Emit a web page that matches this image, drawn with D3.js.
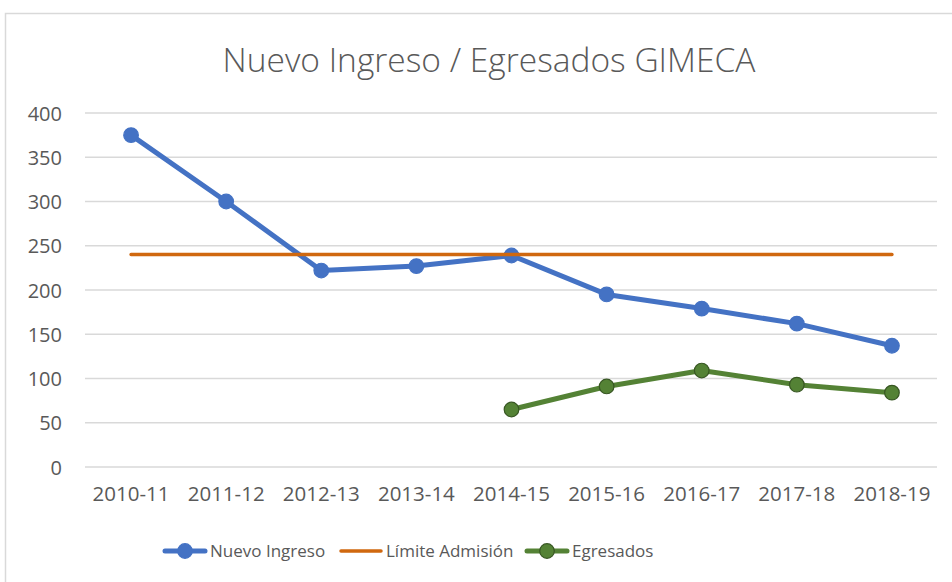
<html>
<head>
    <meta charset="utf-8">
    <title>Nuevo Ingreso / Egresados GIMECA</title>
    <style>
        body { margin: 0; background: #fff; }
        svg text { font-family: "Open Sans", sans-serif; fill: #595959; }
        .grid line { stroke: #d9d9d9; stroke-width: 1.5px; }
    </style>
</head>
<body>
    <svg width="952" height="582"></svg>
    <script src="https://d3js.org/d3.v7.min.js"></script>
    <script>
        // data
        var categories = ["2010-11", "2011-12", "2012-13", "2013-14", "2014-15", "2015-16", "2016-17", "2017-18", "2018-19"];
        var nuevoIngreso = [375, 300, 222, 227, 239, 195, 179, 162, 137];
        var limiteAdmision = [240, 240, 240, 240, 240, 240, 240, 240, 240];
        var egresados = [null, null, null, null, 65, 91, 109, 93, 84];
        var yTicks = [0, 50, 100, 150, 200, 250, 300, 350, 400];

        var series = [
            { name: "Nuevo Ingreso", values: nuevoIngreso, color: "#4472c4", width: 5, marker: true, markerStroke: "#4472c4" },
            { name: "Límite Admisión", values: limiteAdmision, color: "#d0680f", width: 3.5, marker: false },
            { name: "Egresados", values: egresados, color: "#548235", width: 5, marker: true, markerStroke: "#385723" }
        ];

        var svg = d3.select("svg");

        // chart frame
        svg.append("rect")
            .attr("x", 5.5).attr("y", 13.5)
            .attr("width", 960).attr("height", 600)
            .attr("fill", "none")
            .attr("stroke", "#d9d9d9")
            .attr("stroke-width", 1.5);

        svg.append("text")
            .attr("x", 489).attr("y", 72)
            .attr("text-anchor", "middle")
            .style("font-size", "33.5px")
            .style("font-weight", 300)
            .text("Nuevo Ingreso / Egresados GIMECA");

        var x = d3.scaleBand().domain(categories).range([83.5, 939.5]);
        var y = d3.scaleLinear().domain([0, 400]).range([467, 113]);

        // gridlines
        svg.append("g").attr("class", "grid")
            .selectAll("line")
            .data(yTicks)
            .enter().append("line")
            .attr("x1", 85).attr("x2", 937)
            .attr("y1", function (d) { return y(d); })
            .attr("y2", function (d) { return y(d); });

        // y axis labels
        var yAxis = d3.axisLeft(y).tickValues(yTicks).tickSize(0).tickPadding(0);
        svg.append("g")
            .attr("transform", "translate(62,0)")
            .call(yAxis)
            .call(function (g) { g.select(".domain").remove(); })
            .selectAll("text")
            .attr("dy", "0.35em")
            .style("font-size", "20px")
            .style("fill", "#595959");

        // x axis labels
        var xAxis = d3.axisBottom(x).tickSize(0).tickPadding(0);
        svg.append("g")
            .attr("transform", "translate(0,486)")
            .call(xAxis)
            .call(function (g) { g.select(".domain").remove(); })
            .selectAll("text")
            .attr("dy", "0.71em")
            .style("font-size", "20.5px")
            .style("fill", "#595959");

        var cx = function (i) { return x(categories[i]) + x.bandwidth() / 2; };

        var line = d3.line()
            .defined(function (d) { return d != null; })
            .x(function (d, i) { return cx(i); })
            .y(function (d) { return y(d); });

        series.forEach(function (s) {
            svg.append("path")
                .datum(s.values)
                .attr("fill", "none")
                .attr("stroke", s.color)
                .attr("stroke-width", s.width)
                .attr("stroke-linejoin", "round")
                .attr("stroke-linecap", "round")
                .attr("d", line);

            if (s.marker) {
                svg.append("g")
                    .selectAll("circle")
                    .data(s.values.map(function (v, i) { return { v: v, i: i }; }).filter(function (d) { return d.v != null; }))
                    .enter().append("circle")
                    .attr("cx", function (d) { return cx(d.i); })
                    .attr("cy", function (d) { return y(d.v); })
                    .attr("r", 7.3)
                    .attr("fill", s.color)
                    .attr("stroke", s.markerStroke)
                    .attr("stroke-width", 1.2);
            }
        });

        // legend
        var legendX = [165, 341, 527];
        var legend = svg.append("g")
            .selectAll("g")
            .data(series)
            .enter().append("g")
            .attr("transform", function (d, i) { return "translate(" + legendX[i] + ",551)"; });

        legend.append("line")
            .attr("x1", 0).attr("x2", 40)
            .attr("stroke", function (d) { return d.color; })
            .attr("stroke-width", function (d) { return d.width; })
            .attr("stroke-linecap", "round");

        legend.filter(function (d) { return d.marker; })
            .append("circle")
            .attr("cx", 20).attr("r", 7.3)
            .attr("fill", function (d) { return d.color; })
            .attr("stroke", function (d) { return d.markerStroke; })
            .attr("stroke-width", 1.2);

        legend.append("text")
            .attr("x", 45).attr("dy", "0.35em")
            .style("font-size", "17px")
            .text(function (d) { return d.name; });
    </script>
</body>
</html>
